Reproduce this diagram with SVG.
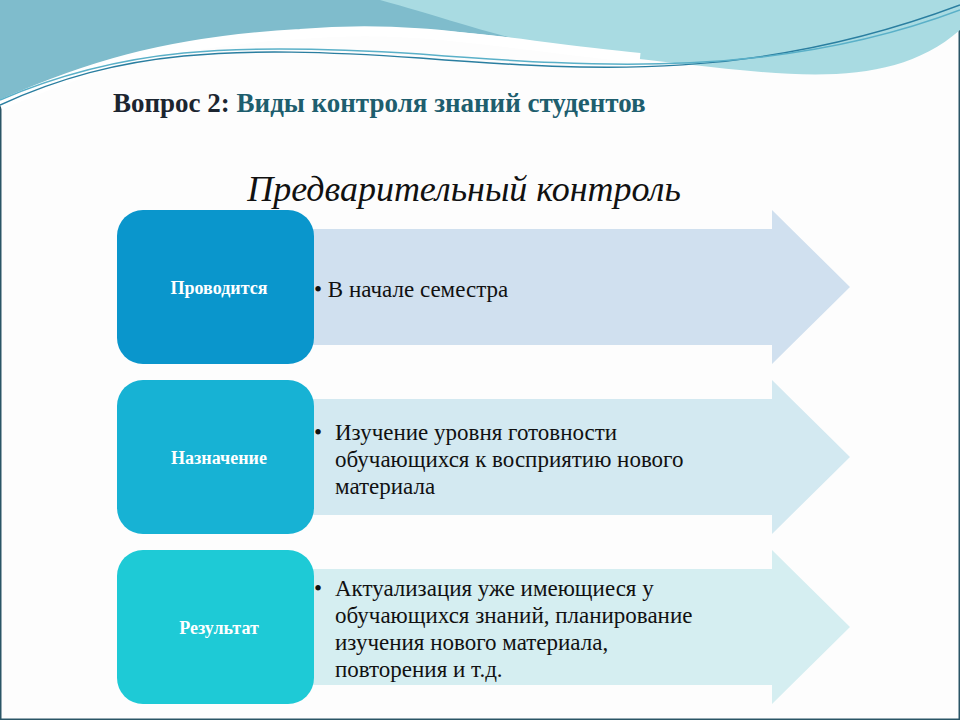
<svg xmlns="http://www.w3.org/2000/svg" width="960" height="720" viewBox="0 0 960 720">
<style>
.box{stroke:none}
.lbl{font-family:"Liberation Serif",serif;font-weight:bold;font-size:18px;fill:#fff;text-anchor:middle}
.txt{font-family:"Liberation Serif",serif;font-size:23px;fill:#111}
</style>
<rect width="960" height="720" fill="#fdfdfd" stroke="#2a5566" stroke-width="3"/>
<path d="M0,0 H960 V20 C860,90 760,60 640,50 C500,40 420,20 300,30 C160,42 80,70 0,105 Z" fill="#7fbccc"/>
<path d="M380,0 H960 V30 C880,100 760,70 600,55 C520,45 470,25 380,0 Z" fill="#a9dbe2"/>
<path d="M0,105 C80,70 160,42 300,34 C420,24 500,44 640,58" fill="none" stroke="#fff" stroke-width="10"/>
<path d="M0,105 C120,50 230,45 420,58 C600,72 760,80 960,5" fill="none" stroke="#2a7ea0" stroke-width="1.5"/>
<path d="M0,100 C120,48 230,42 420,54 C600,68 780,78 960,10" fill="none" stroke="#5ab0c8" stroke-width="1.5"/>
<text x="113" y="112" font-family="Liberation Serif,serif" font-weight="bold" font-size="27"><tspan fill="#1c2530">Вопрос 2: </tspan><tspan fill="#1e5e6e">Виды контроля знаний студентов</tspan></text>
<text x="464" y="201" font-family="Liberation Serif,serif" font-style="italic" font-size="36" fill="#111" text-anchor="middle">Предварительный контроль</text>
<g id="row1">
<path d="M300,229 H772 V210 L850,287 L772,364 V345 H300 Z" fill="#d0e0ef"/>
<rect class="box" x="117" y="210" width="197" height="154" rx="26" fill="#0a96cc"/>
<text class="lbl" x="219" y="294">Проводится</text>
<text class="txt" x="314" y="297">• В начале семестра</text>
</g>
<g id="row2">
<path d="M300,399 H772 V380 L850,457 L772,534 V515 H300 Z" fill="#d3e9f1"/>
<rect class="box" x="117" y="380" width="197" height="154" rx="26" fill="#17b2d4"/>
<text class="lbl" x="219" y="464">Назначение</text>
<text class="txt" x="314" y="440">•<tspan x="335">Изучение уровня готовности</tspan><tspan x="335" dy="27">обучающихся к восприятию нового</tspan><tspan x="335" dy="27">материала</tspan></text>
</g>
<g id="row3">
<path d="M300,569 H772 V550 L850,627 L772,704 V685 H300 Z" fill="#d5eef1"/>
<rect class="box" x="117" y="550" width="197" height="154" rx="26" fill="#1ecad6"/>
<text class="lbl" x="219" y="634">Результат</text>
<text class="txt" x="314" y="596">•<tspan x="335">Актуализация уже имеющиеся у</tspan><tspan x="335" dy="27">обучающихся знаний, планирование</tspan><tspan x="335" dy="27">изучения нового материала,</tspan><tspan x="335" dy="27">повторения и т.д.</tspan></text>
</g>
<g id="connectors"/>
</svg>
